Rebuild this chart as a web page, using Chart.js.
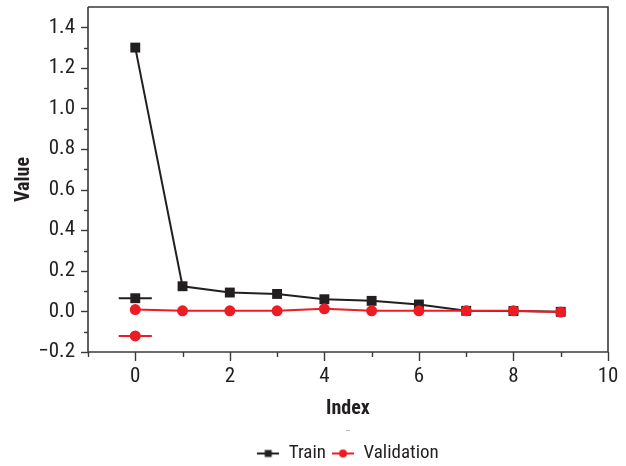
<!DOCTYPE html>
<html><head><meta charset="utf-8">
<script src="https://cdn.jsdelivr.net/npm/chart.js@4"></script>
<style>html,body{margin:0;padding:0;background:#fff}#wrap{width:626px;height:466px;position:relative}</style>
</head><body><div id="wrap"><canvas id="c" width="626" height="466"></canvas></div>
<script>
const indices = [0, 1, 2, 3, 4, 5, 6, 7, 8, 9];
const trainValues = [1.30, 0.124, 0.093, 0.086, 0.060, 0.052, 0.034, 0.003, 0.002, -0.002];
const validationValues = [0.009, 0.003, 0.003, 0.003, 0.013, 0.003, 0.003, 0.003, 0.003, -0.003];
// stray legend samples drawn inside the plot (no text)
const strayTrainX = [-0.35, 0, 0.35];
const strayTrainY = [0.065, 0.065, 0.065];
const strayValidX = [-0.35, 0, 0.35];
const strayValidY = [-0.121, -0.121, -0.121];
const yTickValues = [-0.2, 0.0, 0.2, 0.4, 0.6, 0.8, 1.0, 1.2, 1.4];
const yTickLabels = ['\u22120.2', '0.0', '0.2', '0.4', '0.6', '0.8', '1.0', '1.2', '1.4'];
const xTickValues = [0, 2, 4, 6, 8, 10];
const xTickLabels = ['0', '2', '4', '6', '8', '10'];
const seriesNames = ['Train', 'Validation'];

const FONT = "'Roboto Condensed', 'Liberation Sans Narrow', 'Open Sans Condensed', 'DejaVu Sans Condensed', sans-serif";
const INK = '#231f20';
const BLACK = '#231f20';
const RED = '#ed1c24';
const AXIS = '#3a3a3a';

function toXY(xs, ys) { return xs.map((x, i) => ({ x: x, y: ys[i] })); }

function sample(color, shape) {
  const c = document.createElement('canvas');
  c.width = 22; c.height = 12;
  const g = c.getContext('2d');
  g.strokeStyle = color; g.lineWidth = 2;
  g.beginPath(); g.moveTo(0, 6); g.lineTo(22, 6); g.stroke();
  g.fillStyle = color;
  if (shape === 'rect') { g.fillRect(7.5, 2.5, 7, 7); }
  else { g.beginPath(); g.arc(11, 6, 4, 0, Math.PI * 2); g.fill(); }
  return c;
}
const trainSample = sample(BLACK, 'rect');
const validSample = sample(RED, 'circle');

const frameTicks = {
  id: 'frameTicks',
  afterDraw(chart) {
    const { ctx, chartArea: a, scales } = chart;
    ctx.save();
    ctx.strokeStyle = AXIS;
    ctx.lineWidth = 1.6;
    ctx.beginPath();
    ctx.moveTo(a.left, a.top); ctx.lineTo(a.right, a.top);
    ctx.lineTo(a.right, a.bottom); ctx.lineTo(a.left, a.bottom);
    ctx.lineTo(a.left, a.top);
    ctx.stroke();
    ctx.lineWidth = 1.4;
    const y = scales.y;
    for (let k = -2; k <= 14; k++) {
      const p = Math.round(y.getPixelForValue(k / 10)) + 0.5;
      const len = (k % 2 === 0) ? 7 : 4;
      ctx.beginPath(); ctx.moveTo(a.left - len, p); ctx.lineTo(a.left, p); ctx.stroke();
    }
    const x = scales.x;
    for (let k = -1; k <= 10; k++) {
      const p = Math.round(x.getPixelForValue(k)) + 0.5;
      const len = (k % 2 === 0) ? 9 : 5;
      ctx.beginPath(); ctx.moveTo(p, a.bottom); ctx.lineTo(p, a.bottom + len); ctx.stroke();
    }
    ctx.restore();
  }
};

new Chart(document.getElementById('c'), {
  type: 'line',
  data: {
    datasets: [
      { label: seriesNames[0], data: toXY(indices, trainValues), borderColor: BLACK, backgroundColor: BLACK,
        borderWidth: 2, pointStyle: 'rect', pointRadius: 7, pointBorderWidth: 0, order: 2 },
      { label: seriesNames[1], data: toXY(indices, validationValues), borderColor: RED, backgroundColor: RED,
        borderWidth: 2, pointStyle: 'circle', pointRadius: 5.5, pointBorderWidth: 0, order: 1 },
      { label: 'strayTrain', data: toXY(strayTrainX, strayTrainY), borderColor: BLACK, backgroundColor: BLACK,
        borderWidth: 2, pointStyle: 'rect', pointRadius: [0, 7, 0], pointBorderWidth: 0, order: 3 },
      { label: 'strayValid', data: toXY(strayValidX, strayValidY), borderColor: RED, backgroundColor: RED,
        borderWidth: 2, pointStyle: 'circle', pointRadius: [0, 5.5, 0], pointBorderWidth: 0, order: 3 }
    ]
  },
  options: {
    responsive: false,
    animation: false,
    layout: { padding: { top: 7, right: 18, left: 0, bottom: -7 } },
    plugins: {
      tooltip: { enabled: false },
      legend: {
        position: 'bottom',
        fullSize: false,
        title: { display: true, text: '\u2013', color: '#b0b0b0', font: { family: FONT, size: 10 }, padding: { top: 2, bottom: 0 } },
        labels: {
          usePointStyle: true,
          pointStyleWidth: 22,
          boxHeight: 12,
          padding: 6,
          color: INK,
          font: { family: FONT, size: 19 },
          generateLabels: () => [
            { text: seriesNames[0], pointStyle: trainSample, fillStyle: BLACK, strokeStyle: BLACK, lineWidth: 0, hidden: false, datasetIndex: 0, fontColor: INK },
            { text: seriesNames[1], pointStyle: validSample, fillStyle: RED, strokeStyle: RED, lineWidth: 0, hidden: false, datasetIndex: 1, fontColor: INK }
          ]
        }
      }
    },
    scales: {
      x: {
        type: 'linear', min: -1, max: 10,
        afterFit: s => { s.height = 72; s.paddingLeft = 0; s.paddingRight = 0; },
        afterBuildTicks: s => { s.ticks = xTickValues.map(v => ({ value: v })); },
        grid: { display: false, drawTicks: false },
        border: { display: false },
        ticks: { padding: 12, color: INK, font: { family: FONT, size: 21 },
          callback: v => { const i = xTickValues.indexOf(v); return i >= 0 ? xTickLabels[i] : ''; } },
        title: { display: true, text: 'Index', color: INK, font: { family: FONT, size: 20, weight: 'bold' }, padding: { top: 6, bottom: 3 } }
      },
      y: {
        type: 'linear', min: -0.2, max: 1.5,
        afterFit: s => { s.width = 88; s.paddingTop = 0; s.paddingBottom = 0; },
        afterBuildTicks: s => { s.ticks = yTickValues.map(v => ({ value: v })); },
        grid: { display: false, drawTicks: false },
        border: { display: false },
        ticks: { padding: 13, color: INK, font: { family: FONT, size: 21 },
          callback: v => { const i = yTickValues.findIndex(t => Math.abs(t - v) < 1e-9); return i >= 0 ? yTickLabels[i] : ''; } },
        title: { display: true, text: 'Value', color: INK, font: { family: FONT, size: 20, weight: 'bold' }, padding: { top: 12, bottom: 4 } }
      }
    }
  },
  plugins: [frameTicks]
});
</script>
</body></html>
